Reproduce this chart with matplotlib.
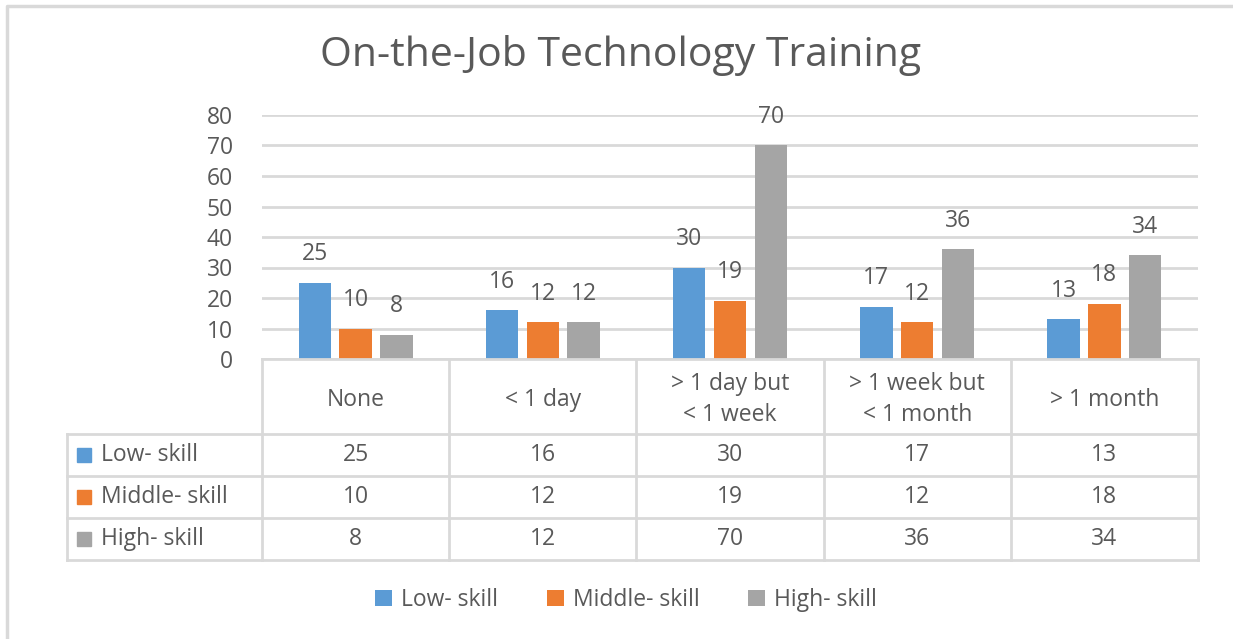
import matplotlib
matplotlib.use("Agg")
import matplotlib.pyplot as plt
from matplotlib.patches import Rectangle
import numpy as np

plt.rcParams['font.family'] = ['Open Sans', 'DejaVu Sans']

# data
categories = ["None", "< 1 day", "> 1 day but\n< 1 week", "> 1 week but\n< 1 month", "> 1 month"]
series = ["Low- skill", "Middle- skill", "High- skill"]
low = [25, 16, 30, 17, 13]
middle = [10, 12, 19, 12, 18]
high = [8, 12, 70, 36, 34]
colors = ["#5B9BD5", "#ED7D31", "#A5A5A5"]
yticks = [0, 10, 20, 30, 40, 50, 60, 70, 80]

txt = "#595959"
grid = "#D9D9D9"
fs = 16.5
W, H = 1233, 639

fig = plt.figure(figsize=(W / 100, H / 100), dpi=100)

# pixel layout of the plot area
left, right, top, base = 262, 1198, 115, 359
ax = fig.add_axes([left / W, 1 - base / H, (right - left) / W, (base - top) / H])
ax.set_xlim(-0.5, len(categories) - 0.5)
ax.set_ylim(0, 80)
ax.set_yticks(yticks)
ax.set_xticks([])
ax.grid(axis='y', color=grid, linewidth=2)
ax.set_axisbelow(True)
for s in ax.spines.values():
    s.set_visible(False)
ax.tick_params(axis='y', length=0, pad=21, labelsize=fs, labelcolor=txt)

x = np.arange(len(categories))
step, bw = 0.218, 0.174
for j, vals in enumerate([low, middle, high]):
    bars = ax.bar(x + (j - 1) * step, vals, bw, color=colors[j], label=series[j], zorder=3)
    for b, v in zip(bars, vals):
        ax.annotate(str(v), (b.get_x() + b.get_width() / 2, v), xytext=(0, 12),
                    textcoords='offset points', ha='center', va='bottom',
                    fontsize=fs, color=txt)

# overlay in pixel coordinates for frame, title, table and legend
ov = fig.add_axes([0, 0, 1, 1], zorder=5)
ov.set_xlim(0, W)
ov.set_ylim(H, 0)
ov.axis('off')
ov.patch.set_alpha(0)

# outer frame
ov.plot([7, 7, W], [H, 6, 6], color=grid, lw=2.5)

ov.text(621, 56, "On-the-Job Technology Training", ha='center', va='center',
        fontsize=29.5, color=txt)

# table
colw = (right - left) / len(categories)
xs = [left + i * colw for i in range(len(categories) + 1)]
tleft = 67
rows_y = [base, 434, 476, 518, 560]
lw = 2
ov.plot([left, right], [base, base], color=grid, lw=lw)
for yy in rows_y[1:]:
    ov.plot([tleft, right], [yy, yy], color=grid, lw=lw)
for xx in xs:
    ov.plot([xx, xx], [base, rows_y[-1]], color=grid, lw=lw)
ov.plot([tleft, tleft], [rows_y[1], rows_y[-1]], color=grid, lw=lw)

for i, c in enumerate(categories):
    ov.text(xs[i] + colw / 2, (rows_y[0] + rows_y[1]) / 2 + 3, c, ha='center', va='center',
            fontsize=fs, color=txt, linespacing=1.35)
for r, (name, vals) in enumerate(zip(series, [low, middle, high])):
    yc = (rows_y[r + 1] + rows_y[r + 2]) / 2
    ov.add_patch(Rectangle((77, yc - 7), 14, 14, color=colors[r]))
    ov.text(101, yc, name, ha='left', va='center', fontsize=fs, color=txt)
    for i, v in enumerate(vals):
        ov.text(xs[i] + colw / 2, yc, str(v), ha='center', va='center', fontsize=fs, color=txt)

# legend
handles, labels = ax.get_legend_handles_labels()
fig.legend(handles, labels, loc='center', bbox_to_anchor=(626 / W, 1 - 600 / H), ncol=3,
           frameon=False, fontsize=fs, labelcolor=txt, handlelength=0.75, handleheight=0.75,
           handletextpad=0.4, columnspacing=2.1)

fig.savefig("out.png", dpi=100, facecolor='white')
